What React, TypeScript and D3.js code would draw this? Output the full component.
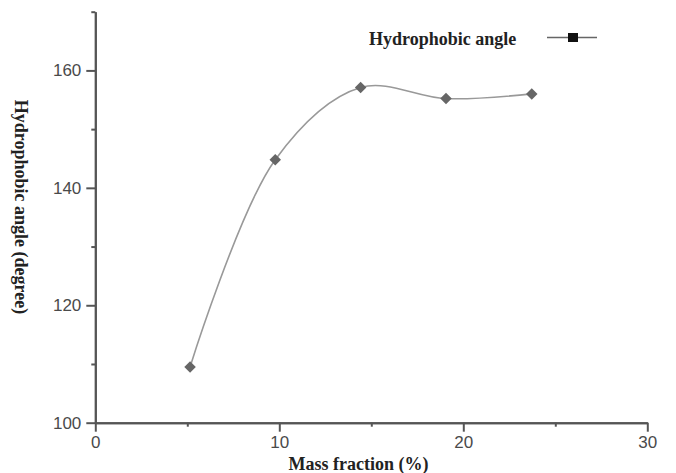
import React, { useEffect, useRef } from "react";
import * as d3 from "d3";

// values
const massFraction = [5.15, 9.78, 14.42, 19.06, 23.72];
const angle = [109.5, 144.8, 157.1, 155.2, 156.0];
const xMajor = [0, 10, 20, 30];
const xMinor = [5, 15, 25];
const yMajor = [100, 120, 140, 160];
const yMinor = [110, 130, 150, 170];

const W = 676;
const H = 473;
const axisColor = "#555";
const serif = "'Liberation Serif', 'Times New Roman', serif";

function App() {
  const svgRef = useRef<SVGSVGElement>(null);

  useEffect(() => {
    const svg = d3.select(svgRef.current);
    svg.selectAll("*").remove();

    const x = d3.scaleLinear().domain([0, 30]).range([95.3, 647.3]);
    const y = d3.scaleLinear().domain([100, 170]).range([422.7, 11.7]);

    // x axis
    const gx = svg.append("g").attr("transform", `translate(0, ${y(100)})`);
    gx.call(d3.axisBottom(x).tickValues(xMajor).tickSize(9).tickSizeOuter(0).tickPadding(4));
    gx.append("g").call(d3.axisBottom(x).tickValues(xMinor).tickSize(4).tickSizeOuter(0).tickFormat(() => ""));

    // y axis
    const gy = svg.append("g").attr("transform", `translate(${x(0)}, 0)`);
    gy.call(d3.axisLeft(y).tickValues(yMajor).tickSize(9).tickSizeOuter(0).tickPadding(5));
    gy.append("g").call(d3.axisLeft(y).tickValues(yMinor).tickSize(4).tickSizeOuter(0).tickFormat(() => ""));

    svg.selectAll(".domain").attr("stroke", axisColor).attr("stroke-width", 2);
    svg.selectAll(".tick line").attr("stroke", axisColor).attr("stroke-width", 2);
    svg
      .selectAll(".tick text")
      .attr("fill", "#4a4a4a")
      .attr("font-family", "'Liberation Sans', Arial, sans-serif")
      .attr("font-size", 17);

    const data = massFraction.map((m, i) => [m, angle[i]] as [number, number]);

    const line = d3
      .line<[number, number]>()
      .x((d) => x(d[0]))
      .y((d) => y(d[1]))
      .curve(d3.curveCatmullRom.alpha(0.5));

    svg
      .append("path")
      .attr("d", line(data))
      .attr("fill", "none")
      .attr("stroke", "#999")
      .attr("stroke-width", 1.6);

    svg
      .selectAll(".pt")
      .data(data)
      .join("path")
      .attr("class", "pt")
      .attr("transform", (d) => `translate(${x(d[0])}, ${y(d[1])})`)
      .attr("d", d3.symbol(d3.symbolDiamond2, 85)())
      .attr("fill", "#666");

    // axis titles
    svg
      .append("text")
      .attr("x", 358.5)
      .attr("y", 470)
      .attr("text-anchor", "middle")
      .attr("font-family", serif)
      .attr("font-weight", "bold")
      .attr("font-size", 18)
      .attr("fill", "#222")
      .text("Mass fraction (%)");

    svg
      .append("text")
      .attr("transform", "translate(15, 207) rotate(90)")
      .attr("text-anchor", "middle")
      .attr("font-family", serif)
      .attr("font-weight", "bold")
      .attr("font-size", 18)
      .attr("fill", "#222")
      .text("Hydrophobic angle (degree)");

    // legend
    const lg = svg.append("g");
    lg.append("text")
      .attr("x", 369)
      .attr("y", 45)
      .attr("font-family", serif)
      .attr("font-weight", "bold")
      .attr("font-size", 18)
      .attr("fill", "#222")
      .text("Hydrophobic angle");
    lg.append("line")
      .attr("x1", 547)
      .attr("x2", 597)
      .attr("y1", 37.5)
      .attr("y2", 37.5)
      .attr("stroke", "#666")
      .attr("stroke-width", 1.6);
    lg.append("rect")
      .attr("x", 568)
      .attr("y", 33)
      .attr("width", 10)
      .attr("height", 9)
      .attr("fill", "#111");
  }, []);

  return (
    <div>
      <svg
        ref={svgRef}
        width={W}
        height={H}
        style={{ position: "absolute", left: 0, top: 0, background: "#fff" }}
      ></svg>
    </div>
  );
}

export default App;
